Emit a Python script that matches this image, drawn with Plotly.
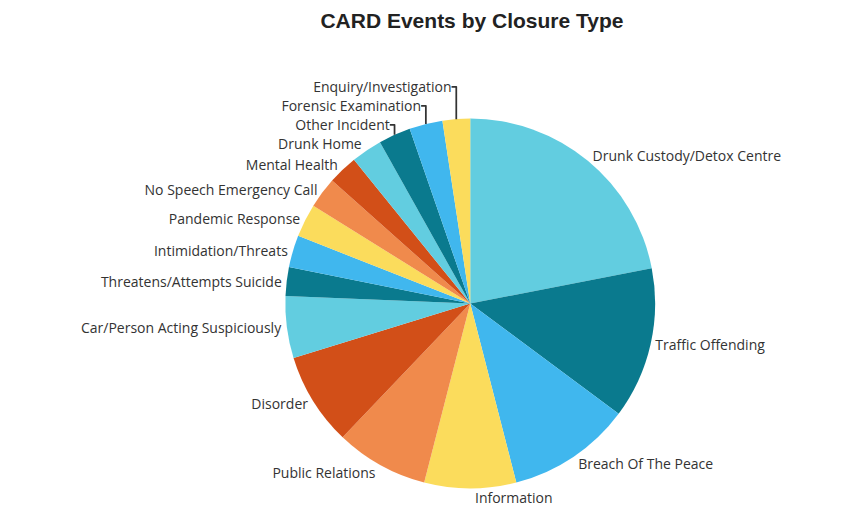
import plotly.graph_objects as go

closure_types = [
    "Drunk Custody/Detox Centre", "Traffic Offending", "Breach Of The Peace",
    "Information", "Public Relations", "Disorder", "Car/Person Acting Suspiciously",
    "Threatens/Attempts Suicide", "Intimidation/Threats", "Pandemic Response",
    "No Speech Emergency Call", "Mental Health", "Drunk Home", "Other Incident",
    "Forensic Examination", "Enquiry/Investigation",
]
events = [219, 132, 108, 80, 81, 81, 54, 25, 28, 29, 27, 26, 27, 28, 29, 24]

palette = ["#62CDE0", "#0A7A8E", "#40B7EE", "#FBDC5C", "#F08A4C", "#D24F18"]
colors = [palette[i % len(palette)] for i in range(len(closure_types))]

fig = go.Figure()
fig.add_trace(go.Pie(
    labels=closure_types, values=events, sort=False, direction="clockwise",
    rotation=0, marker=dict(colors=colors, line=dict(width=0)),
    textinfo="label", textposition="outside",
    textfont=dict(family="Open Sans", size=14, color="#333333"),
    domain=dict(x=[0.324, 0.756], y=[0.05, 0.782]),
    showlegend=False, automargin=False,
))
fig.update_layout(
    width=856, height=506, margin=dict(l=0, r=0, t=0, b=0),
    paper_bgcolor="white",
    title=dict(text="<b>CARD Events by Closure Type</b>", x=0.542, y=0.975,
               xanchor="center", yanchor="middle",
               font=dict(family="Liberation Sans", size=21, color="#222222")),
)
fig.write_html("out.html")
